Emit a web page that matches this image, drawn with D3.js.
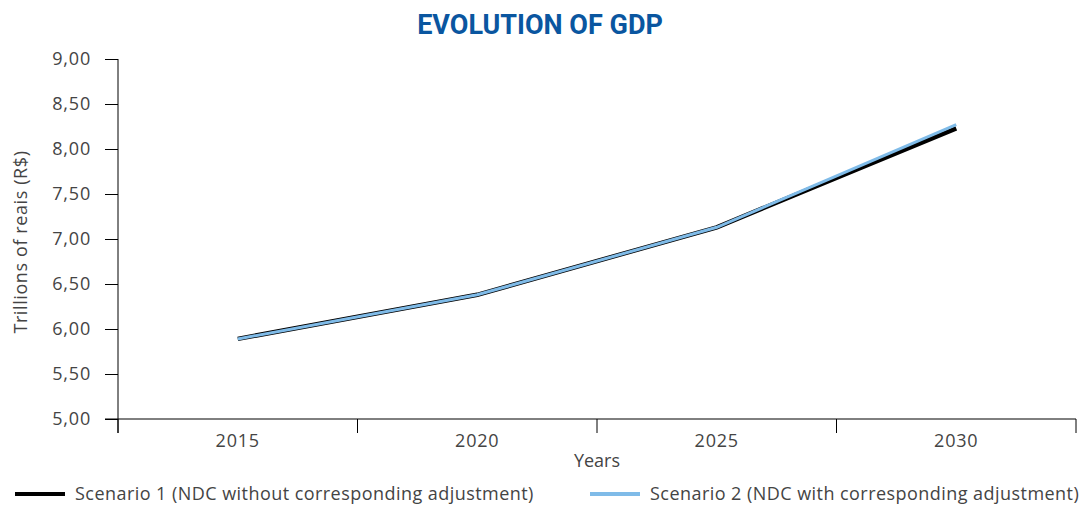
<!DOCTYPE html>
<html>
<head>
<meta charset="utf-8">
<script src="https://cdn.jsdelivr.net/npm/d3@7"></script>
<style>
  body { margin: 0; background: #fff; }
  text { font-family: "Open Sans", "Noto Sans", sans-serif; fill: #444; }
</style>
</head>
<body>
<svg id="chart" width="1083" height="505"></svg>
<script>
// chart data
const years = ['2015', '2020', '2025', '2030'];
const scenario1 = [5.89, 6.38, 7.13, 8.23];
const scenario2 = [5.89, 6.38, 7.13, 8.27];
const yTicks = [5, 5.5, 6, 6.5, 7, 7.5, 8, 8.5, 9];
const seriesNames = [
  'Scenario 1 (NDC without corresponding adjustment)',
  'Scenario 2 (NDC with corresponding adjustment)'
];

const svg = d3.select('#chart');
const fmt = v => d3.format('.2f')(v).replace('.', ',');

const x = d3.scaleBand().domain(years).range([118, 1076]);
const y = d3.scaleLinear().domain([5, 9]).range([419, 59]);

// title
svg.append('text')
  .attr('x', 540).attr('y', 34)
  .attr('text-anchor', 'middle')
  .style('font-family', '"Liberation Sans Narrow", "Roboto", sans-serif')
  .style('font-weight', 'bold')
  .style('font-size', '27px')
  .style('fill', '#0a56a0')
  .text('EVOLUTION OF GDP');

// y axis
const yAxis = svg.append('g')
  .attr('transform', 'translate(118,0)')
  .call(d3.axisLeft(y).tickValues(yTicks).tickFormat(fmt).tickSize(13).tickPadding(14));
yAxis.select('.domain').attr('d', 'M0,59V433');

// x axis with ticks between bands
const xAxis = svg.append('g')
  .attr('transform', 'translate(0,419)')
  .call(d3.axisBottom(x).tickSize(0).tickPadding(15));
xAxis.select('.domain').attr('d', 'M105,0H1076');
xAxis.selectAll('.band-tick')
  .data(d3.range(years.length + 1))
  .join('line')
  .attr('class', 'band-tick')
  .attr('x1', i => 118 + i * x.step())
  .attr('x2', i => 118 + i * x.step())
  .attr('y1', 0).attr('y2', 14)
  .attr('stroke', '#000');

svg.selectAll('g').attr('font-size', null).attr('font-family', null);
svg.selectAll('.tick text')
  .style('font-size', '18px')
  .style('letter-spacing', '0.8px')
  .style('fill', '#444');
svg.selectAll('.domain, .tick line').attr('stroke', '#000');

// axis titles
svg.append('text')
  .attr('transform', 'translate(27,242) rotate(-90)')
  .attr('text-anchor', 'middle')
  .style('font-size', '18px')
  .style('letter-spacing', '0.6px')
  .text('Trillions of reais (R$)');
svg.append('text')
  .attr('x', 597).attr('y', 467)
  .attr('text-anchor', 'middle')
  .style('font-size', '18px')
  .text('Years');

// lines
const line = d3.line()
  .x((d, i) => x(years[i]) + x.bandwidth() / 2)
  .y(d => y(d));

svg.append('path')
  .datum(scenario1)
  .attr('d', line)
  .attr('fill', 'none')
  .attr('stroke', '#000')
  .attr('stroke-width', 4.5);
svg.append('path')
  .datum(scenario2)
  .attr('d', line)
  .attr('fill', 'none')
  .attr('stroke', '#7fbbe8')
  .attr('stroke-width', 3);

// legend
const legendX = [15, 590];
const legendColors = ['#000', '#7fbbe8'];
const legend = svg.selectAll('.legend')
  .data(seriesNames)
  .join('g')
  .attr('class', 'legend')
  .attr('transform', (d, i) => `translate(${legendX[i]},494)`);
legend.append('line')
  .attr('x1', 0).attr('x2', 50)
  .attr('stroke', (d, i) => legendColors[i])
  .attr('stroke-width', 4);
legend.append('text')
  .attr('x', 60).attr('y', 6)
  .style('font-size', '18px')
  .style('letter-spacing', '0.45px')
  .text(d => d);
</script>
</body>
</html>
